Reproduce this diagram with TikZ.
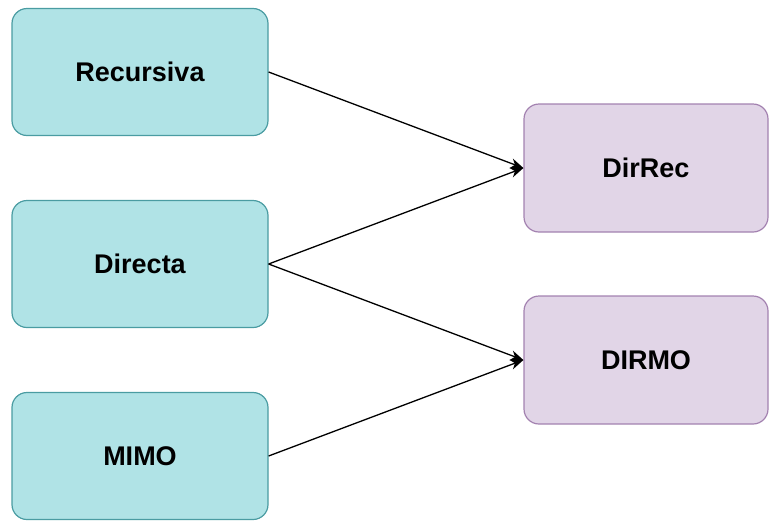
\documentclass[tikz,border=0pt]{standalone}
\usepackage{fontspec}
\setmainfont{Liberation Sans}
\usetikzlibrary{arrows.meta}
\begin{document}
\begin{tikzpicture}[x=1pt,y=-1pt,
  tealbox/.style={line width=1.2pt, rounded corners=15pt, minimum width=256pt, minimum height=127pt, inner sep=0pt, font=\fontsize{27}{32}\selectfont\bfseries},
  purplebox/.style={line width=1.2pt, rounded corners=15pt, minimum width=244pt, minimum height=128pt, inner sep=0pt, font=\fontsize{27}{32}\selectfont\bfseries},
  link/.style={line width=1.3pt, -{Stealth[length=13pt,width=10pt,inset=4pt]}}]
\definecolor{tealfill}{HTML}{B0E3E6}
\definecolor{tealdraw}{HTML}{4A9CA2}
\definecolor{purfill}{HTML}{E1D5E7}
\definecolor{purdraw}{HTML}{A382B0}
\useasboundingbox (0,0) rectangle (769,520);
\node[tealbox, fill=tealfill, draw=tealdraw] (rec) at (140,72) {Recursiva};
\node[tealbox, fill=tealfill, draw=tealdraw] (dir) at (140,264) {Directa};
\node[tealbox, fill=tealfill, draw=tealdraw] (mimo) at (140,456) {MIMO};
\node[purplebox, fill=purfill, draw=purdraw] (dirrec) at (646,168) {DirRec};
\node[purplebox, fill=purfill, draw=purdraw] (dirmo) at (646,360) {DIRMO};
\draw[link] (rec.east) -- (dirrec.west);
\draw[link] (dir.east) -- (dirrec.west);
\draw[link] (dir.east) -- (dirmo.west);
\draw[link] (mimo.east) -- (dirmo.west);
\end{tikzpicture}
\end{document}
